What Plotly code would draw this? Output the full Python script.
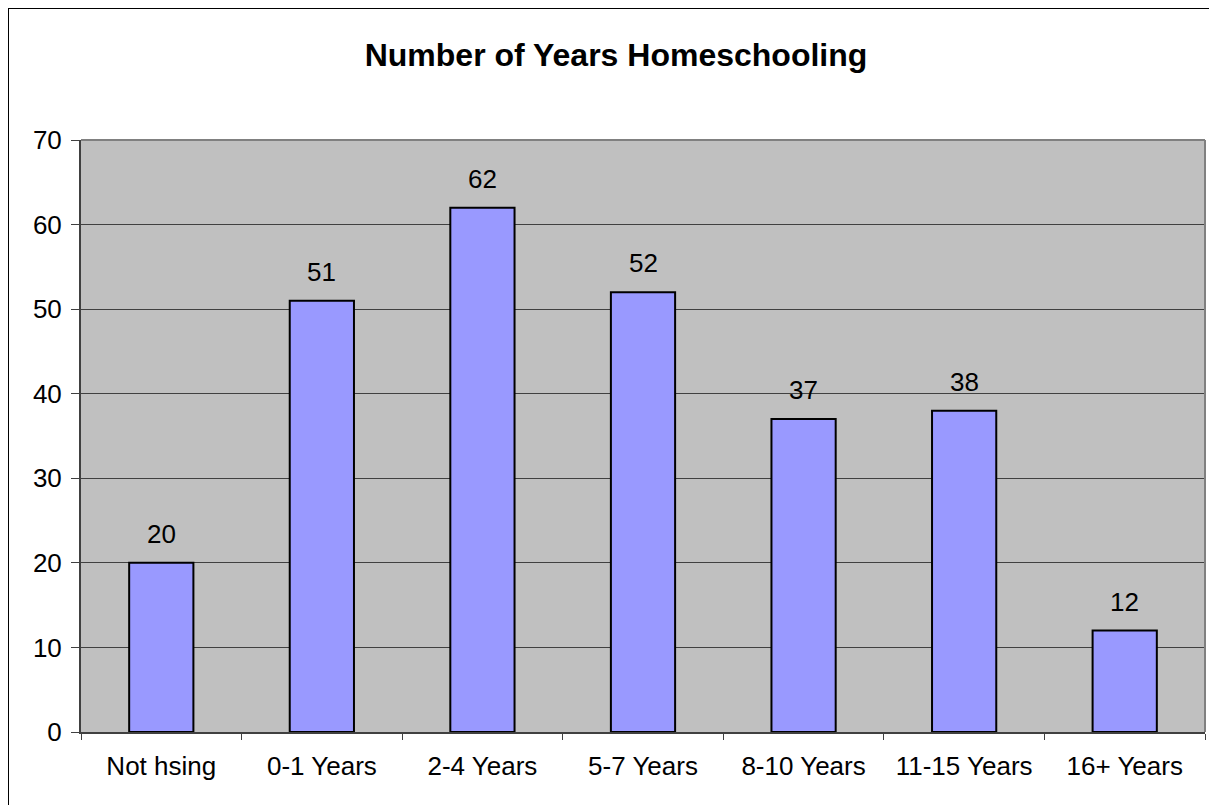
import plotly.graph_objects as go

categories = ["Not hsing", "0-1 Years", "2-4 Years", "5-7 Years", "8-10 Years", "11-15 Years", "16+ Years"]
values = [20, 51, 62, 52, 37, 38, 12]
y_ticks = [0, 10, 20, 30, 40, 50, 60, 70]
title_text = "Number of Years Homeschooling"

W, H = 1217, 805
OFF = 8  # page body offset
# target plot area in page pixels: x 81..1205, y 140..732
L = 81 - OFF
T = 140 - OFF
R = W + OFF - 1205
B = H + OFF - 732

FONT = "Arial, Liberation Sans"

fig = go.Figure()
fig.add_trace(go.Bar(
    x=categories, y=values, width=0.4,
    marker=dict(color="#9999FF", line=dict(color="#000000", width=2)),
    hoverinfo="x+y",
))

for c, v in zip(categories, values):
    fig.add_annotation(x=c, y=v, text=str(v), showarrow=False, yanchor="bottom",
                       yshift=12, font=dict(family=FONT, size=26, color="#000"))

pw = W - L - R
ph = H - T - B
# outer chart border (top-left corner visible, right/bottom extend beyond)
fig.add_shape(type="rect", xref="paper", yref="paper",
              x0=(8 - 81) / pw, x1=(1260 - 81) / pw,
              y0=-(860 - 732) / ph, y1=(732 - 8) / ph,
              line=dict(color="#000000", width=2), layer="above")
# plot area border top/right in gray
fig.add_shape(type="line", xref="paper", yref="paper", x0=0, x1=1, y0=1, y1=1,
              line=dict(color="#808080", width=2))
fig.add_shape(type="line", xref="paper", yref="paper", x0=1, x1=1, y0=0, y1=1,
              line=dict(color="#808080", width=2))

fig.update_layout(
    width=W, height=H,
    margin=dict(l=L, r=R, t=T, b=B),
    paper_bgcolor="#FFFFFF", plot_bgcolor="#C0C0C0",
    showlegend=False,
    font=dict(family=FONT, color="#000"),
    title=dict(text=title_text, xref="container", x=(616 - OFF) / W, xanchor="center",
               yref="container", y=1 - (55 - OFF) / H, yanchor="middle",
               font=dict(size=32, family=FONT, color="#000", weight="bold")),
    bargap=0.6,
)
fig.update_xaxes(
    type="category", tickson="boundaries", ticks="outside", ticklen=6, tickcolor="#404040",
    showline=True, linecolor="#404040", linewidth=2, showgrid=False,
    tickfont=dict(size=26), ticklabelstandoff=10, range=[-0.5, 6.5],
)
fig.update_yaxes(
    range=[0, 70], tickvals=y_ticks, ticks="outside", ticklen=8, tickcolor="#404040",
    showline=True, linecolor="#404040", linewidth=2,
    showgrid=True, gridcolor="#404040", gridwidth=1, zeroline=False,
    tickfont=dict(size=26), ticklabelstandoff=4,
)

fig.write_html("out.html")
